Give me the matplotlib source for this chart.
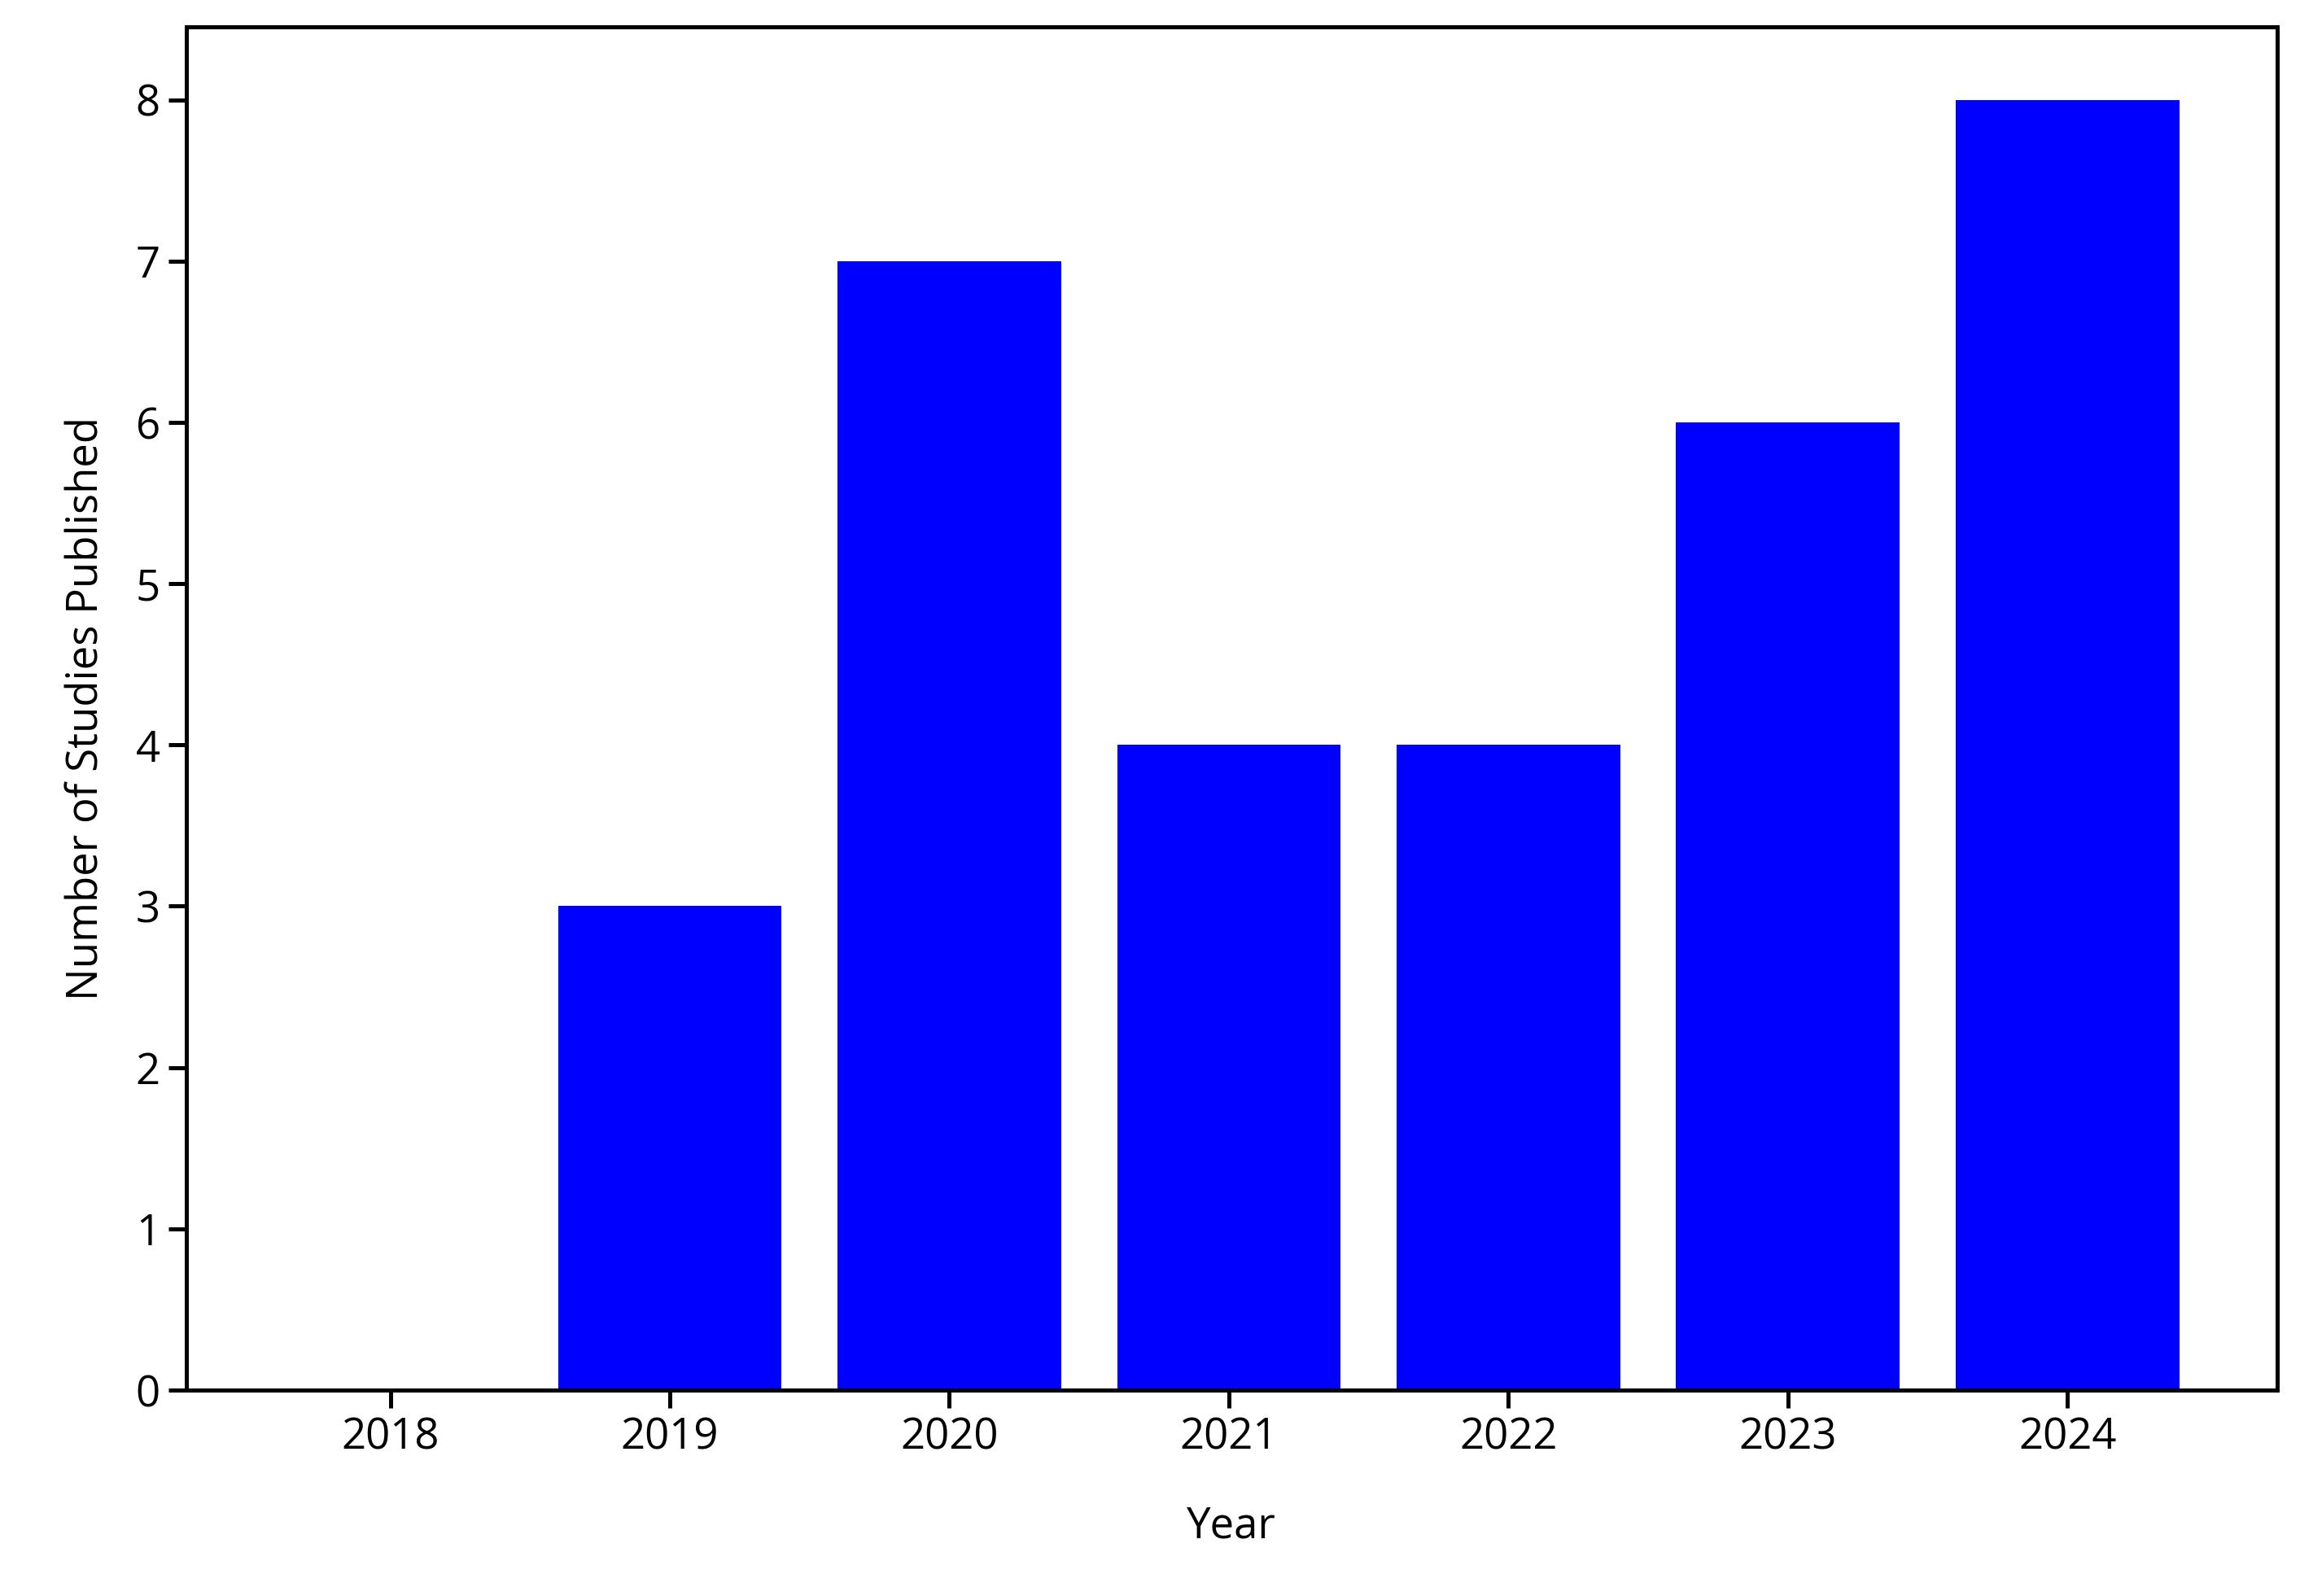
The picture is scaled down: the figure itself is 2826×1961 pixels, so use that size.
import matplotlib.pyplot as plt

plt.rcParams['font.family'] = ['Open Sans', 'DejaVu Sans']

years = [2018, 2019, 2020, 2021, 2022, 2023, 2024]
studies = [0, 3, 7, 4, 4, 6, 8]

fig = plt.figure(figsize=(14.13, 9.805), dpi=200)
ax = fig.add_axes([0.081, 0.129, 0.909, 0.854])

ax.bar(years, studies, width=0.8, color='#0000ff', edgecolor='none')

ax.set_xlim(2017.27, 2024.75)
ax.set_ylim(0, 8.45)
ax.set_xticks(years)
ax.set_yticks(range(0, 9))
ax.tick_params(axis='both', labelsize=19, width=1.8, length=8, direction='out')
for s in ax.spines.values():
    s.set_linewidth(1.8)

ax.set_xlabel('Year', fontsize=19, labelpad=20)
ax.set_ylabel('Number of Studies Published', fontsize=19, labelpad=12)

fig.savefig('out.png', dpi=200)
